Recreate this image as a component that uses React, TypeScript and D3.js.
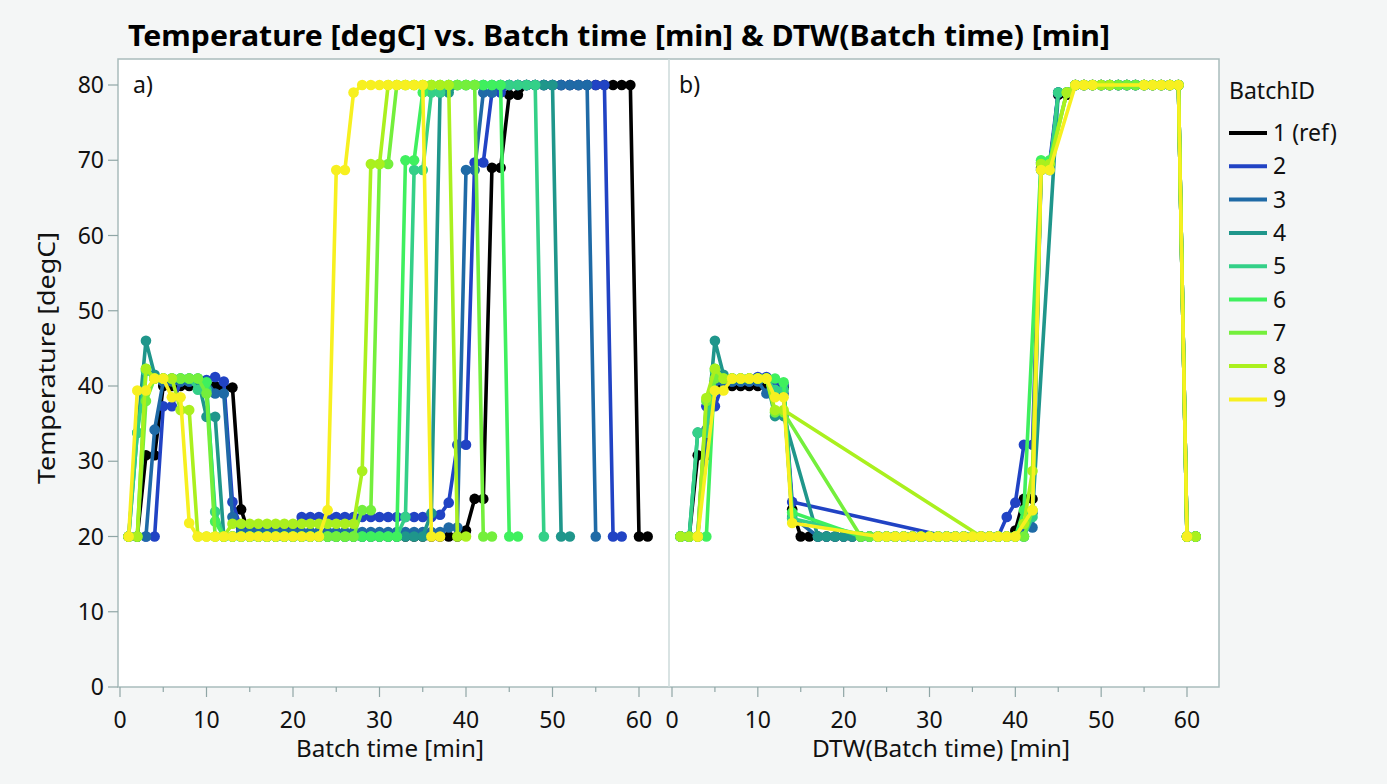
import React from 'react';
import * as d3 from 'd3';

// Legende / Farben
const batchIds = ['1 (ref)', '2', '3', '4', '5', '6', '7', '8', '9'];
const batchColors = ['#000000', '#2143c4', '#1f6aa6', '#1f968b', '#34d088', '#3ff05e', '#74ef3c', '#aaf01e', '#f7f020'];

// a) Temperatur je Minute (t = 1, 2, 3, ...)
const temp1 = [20, 20, 30.8, 30.8, 40, 40, 40, 40, 40, 40, 40, 39.8, 39.8, 23.6,
    20, 20, 20, 20, 20, 20, 20, 20, 20, 20, 20, 20, 20, 20, 20, 20, 20, 20, 20, 20, 20, 20, 20, 20, 20,
    20.8, 25, 25, 69, 69, 78.7, 78.7,
    80, 80, 80, 80, 80, 80, 80, 80, 80, 80, 80, 80, 80, 20, 20];
const temp2 = [20, 20, 20, 20, 37.3, 37.3, 40.6, 40.6, 40.6, 40.8, 41.2, 40.6, 24.6,
    21, 21, 21, 21, 21, 21, 21,
    22.6, 22.6, 22.6, 22.6, 22.6, 22.6, 22.6, 22.6, 22.6, 22.6, 22.6, 22.6, 22.6, 22.6, 22.6, 22.6,
    22.9, 24.5, 32.2, 32.2, 69.7, 69.7, 79, 79,
    80, 80, 80, 80, 80, 80, 80, 80, 80, 80, 80, 80, 20, 20];
const temp3 = [20, 20, 20, 34.2, 40.6, 40.6, 40.6, 40.6, 40.6, 40.6, 39, 39, 22.6,
    20.6, 20.6, 20.6, 20.6, 20.6, 20.6, 20.6, 20.6, 20.6, 20.6, 20.6, 20.6, 20.6, 20.6, 20.6, 20.6, 20.6, 20.6, 20.6, 20.6, 20.6, 20.6, 20.6, 20.6,
    21.2, 21.2, 68.7, 68.7, 79, 79,
    80, 80, 80, 80, 80, 80, 80, 80, 80, 80, 80, 20];
const temp4 = [20, 33.8, 46, 41.5, 41, 41, 41, 41, 41, 35.9, 35.9,
    20, 20, 20, 20, 20, 20, 20, 20, 20, 20, 20, 20, 20, 20, 20, 20, 20, 20, 20, 20, 20, 20, 20, 20,
    23.1, 79, 79,
    80, 80, 80, 80, 80, 80, 80, 80, 80, 80, 80, 80, 20, 20];
const temp5 = [20, 33.8, 42, 41, 41, 41, 41, 41, 39.5, 39.5, 23.3,
    20, 20, 20, 20, 20, 20, 20, 20, 20, 20, 20, 20, 20, 20, 20, 20, 20, 20, 20, 20, 20,
    22.6, 68.7, 68.7, 79, 79,
    80, 80, 80, 80, 80, 80, 80, 80, 80, 80, 80, 20];
const temp6 = [20, 20, 42.3, 41, 41, 41, 41, 41, 41, 40.5, 22,
    20, 20, 20, 20, 20, 20, 20, 20, 20, 20, 20, 20, 20, 20, 20, 20, 20, 20, 20, 20, 20,
    70, 70, 79,
    80, 80, 80, 80, 80, 80, 80, 80, 80, 20, 20];
const temp7 = [20, 20, 38, 41, 41, 41, 41, 41, 41, 39,
    20, 20, 20, 20, 20, 20, 20, 20, 20, 20, 20, 20, 20, 20, 20, 20, 20,
    23.5, 23.5, 69.5, 69.5,
    80, 80, 80, 80, 80, 80, 80, 80, 80, 80, 20, 20];
const temp8 = [20, 20, 42.3, 41, 41, 41, 36.8, 36.8, 20, 20, 20, 20,
    21.7, 21.7, 21.7, 21.7, 21.7, 21.7, 21.7, 21.7, 21.7, 21.7, 21.7, 21.7, 21.7, 21.7, 21.7,
    28.7, 69.5, 69.5,
    80, 80, 80, 80, 80, 80, 80, 80, 20, 20];
const temp9 = [20, 39.4, 39.4, 41, 41, 38.5, 38.5, 21.8,
    20, 20, 20, 20, 20, 20, 20, 20, 20, 20, 20, 20, 20, 20, 20,
    23.5, 68.7, 68.7, 79,
    80, 80, 80, 80, 80, 80, 80, 80, 20, 20];

// b) Temperatur je DTW-Minute (t = 1 .. 61), null = kein Punkt
const _ = null;
const dtw1 = temp1; // Referenz bleibt unverändert
const dtw2 = [20, 20, 20, 37.3, 37.3, 40.6, 40.6, 40.6, 40.6, 41.2, 41.2, 40.6, 40.2, 24.6,
    _, _, _, _, _, _, _, _, _, _, _, _, _, _, _, _, _,
    20, 20, 20, 20, 20, 20, 20, 22.6, 24.5, 32.2, 32.2, 69.7, 69.7, 79, 79,
    80, 80, 80, 80, 80, 80, 80, 80, 80, 80, 80, 80, 80, 20, 20];
const dtw3 = [20, 20, 20, 34.2, 40.6, 40.6, 40.6, 40.6, 40.6, 40.6, 39, 39, 39, 22.6, _, _,
    20, 20, 20, 20, 20, 20, 20, 20, 20, 20, 20, 20, 20, 20, 20, 20, 20, 20, 20, 20, 20, 20, 20, 20,
    21.2, 21.2, 68.7, 68.7, 79, 79,
    80, 80, 80, 80, 80, 80, 80, 80, 80, 80, 80, 80, 80, 20, 20];
const dtw4 = [20, 20, 33.8, 33.8, 46, 41.5, 41, 41, 41, 41, 41, 36, 36, _, _, _,
    20, 20, 20, 20, 20, 20, 20, 20, 20, 20, 20, 20, 20, 20, 20, 20, 20, 20, 20, 20, 20, 20, 20, 20, 20,
    23.1, _, _, 79, 79,
    80, 80, 80, 80, 80, 80, 80, 80, 80, 80, 80, 80, 80, 20, 20];
const dtw5 = [20, 20, 33.8, 33.8, 42, 41, 41, 41, 41, 41, 41, 39.5, 39.5, 22.4,
    _, _, _, _, _, _, _, _,
    20, 20, 20, 20, 20, 20, 20, 20, 20, 20, 20, 20, 20, 20, 20, 20, 20, 20, 20,
    22.6, 68.7, 68.7, 79, 79,
    80, 80, 80, 80, 80, 80, 80, 80, 80, 80, 80, 80, 80, 20, 20];
const dtw6 = [20, 20, 20, 20, 42.3, 41, 41, 41, 41, 41, 41, 41, 40.5, 23.2,
    _, _, _, _, _, _, _,
    20, 20, 20, 20, 20, 20, 20, 20, 20, 20, 20, 20, 20, 20, 20, 20, 20, 20, 20,
    23.5, _, 70, 70, _, 79,
    80, 80, 80, 80, 80, 80, 80, 80, 80, 80, 80, 80, 80, 20, 20];
const dtw7 = [20, 20, 20, 38, 41, 41, 41, 41, 41, 41, 41, 36.5, 36.5,
    _, _, _, _, _, _, _, _,
    20, 20, 20, 20, 20, 20, 20, 20, 20, 20, 20, 20, 20, 20, 20, 20, 20, 20, 20,
    20, 23.5, 69.5, 69.5, _, 79,
    80, 80, 80, 80, 80, 80, 80, 80, 80, 80, 80, 80, 80, 20, 20];
const dtw8 = [20, 20, 20, 38.4, 42.3, 41, 41, 41, 41, 41, 41, 36.8, 36.8,
    _, _, _, _, _, _, _, _, _, _, _, _, _, _, _, _, _, _, _, _, _, _,
    20, 20, 20, 20, 20, 21.7, 28.7, 69.5, 69.5, _, 79,
    80, 80, 80, 80, 80, _, _, _, 80, 80, 80, 80, 80, 20, 20];
const dtw9 = [_, _, 20, _, 39.4, 39.4, 41, 41, 41, 41, 41, 38.5, 38.5, 21.8,
    _, _, _, _, _, _, _, _, _,
    20, 20, 20, 20, 20, 20, 20, 20, 20, 20, 20, 20, 20, 20, 20, 20, 20,
    _, 23.5, 68.7, 68.7, _, _,
    80, 80, 80, _, _, _, _, _, 80, 80, 80, 80, 80, 20, _];

const seriesA = [temp1, temp2, temp3, temp4, temp5, temp6, temp7, temp8, temp9];
const seriesB = [dtw1, dtw2, dtw3, dtw4, dtw5, dtw6, dtw7, dtw8, dtw9];

const yTicks = [0, 10, 20, 30, 40, 50, 60, 70, 80];
const xTicks = [0, 10, 20, 30, 40, 50, 60];
const xMinorTicks = [5, 15, 25, 35, 45, 55];

const W = 1387;
const H = 784;
const frame = {left: 118, right: 1219, top: 59, bottom: 687, mid: 669};
const FONT = '"Segoe UI", "Noto Sans", "Open Sans", sans-serif';
const FS = 23;

const App: React.FC = () => {
    const xA = d3.scaleLinear().domain([0, 60]).range([120, 639]);
    const xB = d3.scaleLinear().domain([0, 60]).range([672, 1187]);
    const y = d3.scaleLinear().domain([0, 80]).range([687, 85]);

    const toPoints = (vals: (number | null)[]) =>
        vals.map((v, i) => [i + 1, v] as [number, number | null])
            .filter(d => d[1] !== null) as [number, number][];

    const panel = (series: (number | null)[][], x: d3.ScaleLinear<number, number>, key: string) => (
        <g key={key}>
            {series.map((vals, si) => {
                const pts = toPoints(vals);
                const line = d3.line<[number, number]>()
                    .x(d => x(d[0]))
                    .y(d => y(d[1]));
                return (
                    <g key={si}>
                        <path d={line(pts)!} fill="none" stroke={batchColors[si]} strokeWidth={3.6}
                              strokeLinejoin="round"/>
                        {pts.map((p, pi) => (
                            <circle key={pi} cx={x(p[0])} cy={y(p[1])} r={5.3} fill={batchColors[si]}/>
                        ))}
                    </g>
                );
            })}
        </g>
    );

    const xAxis = (x: d3.ScaleLinear<number, number>, key: string) => (
        <g key={key}>
            {xTicks.map(t => (
                <g key={t}>
                    <line x1={x(t)} x2={x(t)} y1={frame.bottom} y2={frame.bottom + 10} stroke="#8fa6a6" strokeWidth={1.2}/>
                    <text x={x(t)} y={frame.bottom + 41} textAnchor="middle" fontSize={FS} fill="#111"
                          fontFamily={FONT}>{t}</text>
                </g>
            ))}
            {xMinorTicks.map(t => (
                <line key={'m' + t} x1={x(t)} x2={x(t)} y1={frame.bottom} y2={frame.bottom + 5} stroke="#8fa6a6"
                      strokeWidth={1.2}/>
            ))}
        </g>
    );

    return (
        <svg width={W} height={H} style={{display: 'block', position: 'absolute', left: 0, top: 0}}>
            <rect x={0} y={0} width={W} height={H} fill="#f4f6f6"/>
            {/* Titel */}
            <text x={619} y={46} textAnchor="middle" fontSize={29} fontWeight="bold" fill="#000"
                  fontFamily={FONT} textLength={982} lengthAdjust="spacingAndGlyphs">Temperature [degC] vs. Batch time [min] &amp; DTW(Batch time) [min]</text>

            {/* Plotflächen */}
            <rect x={frame.left} y={frame.top} width={frame.right - frame.left} height={frame.bottom - frame.top}
                  fill="#fff" stroke="#a9bcbc" strokeWidth={1.5}/>
            <line x1={frame.mid} x2={frame.mid} y1={frame.top} y2={frame.bottom} stroke="#cddada" strokeWidth={1.5}/>

            {panel(seriesA, xA, 'a')}
            {panel(seriesB, xB, 'b')}

            <text x={133} y={93} fontSize={FS} fontFamily={FONT} fill="#111">a)</text>
            <text x={679} y={93} fontSize={FS} fontFamily={FONT} fill="#111">b)</text>

            {/* y-Achse */}
            {yTicks.map(t => (
                <g key={t}>
                    <line x1={frame.left - 10} x2={frame.left} y1={y(t)} y2={y(t)} stroke="#8fa6a6" strokeWidth={1.2}/>
                    <text x={frame.left - 14} y={y(t) + 8} textAnchor="end" fontSize={FS} fill="#111"
                          fontFamily={FONT}>{t}</text>
                </g>
            ))}
            <text transform="translate(55,358) rotate(-90)" textAnchor="middle" fontSize={FS} fill="#111"
                  fontFamily={FONT} textLength={252} lengthAdjust="spacingAndGlyphs">Temperature [degC]</text>

            {/* x-Achsen */}
            {xAxis(xA, 'xa')}
            {xAxis(xB, 'xb')}
            <text x={390} y={757} textAnchor="middle" fontSize={FS} fill="#111" fontFamily={FONT}
                  textLength={188} lengthAdjust="spacingAndGlyphs">Batch time [min]</text>
            <text x={941} y={757} textAnchor="middle" fontSize={FS} fill="#111" fontFamily={FONT}
                  textLength={258} lengthAdjust="spacingAndGlyphs">DTW(Batch time) [min]</text>

            {/* Legende */}
            <text x={1229} y={99} fontSize={FS} fill="#111" fontFamily={FONT}>BatchID</text>
            {batchIds.map((id, i) => (
                <g key={id} transform={`translate(1229, ${133 + i * 33.3})`}>
                    <line x1={0} x2={38} y1={0} y2={0} stroke={batchColors[i]} strokeWidth={4}/>
                    <text x={44} y={8} fontSize={FS} fill="#111" fontFamily={FONT}>{id}</text>
                </g>
            ))}
        </svg>
    );
};

export default App;
